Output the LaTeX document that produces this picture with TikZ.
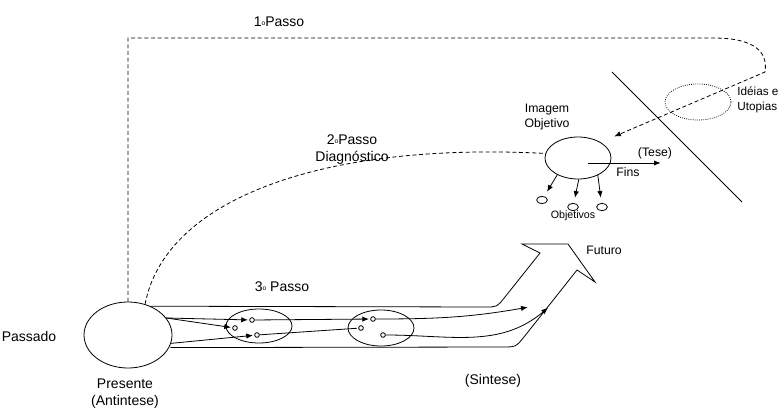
\documentclass[tikz,border=0pt]{standalone}
\usepackage{fontspec}
\setmainfont{Liberation Sans}
\usetikzlibrary{arrows,arrows.meta,calc,positioning,shapes.geometric}

\newcommand{\ord}{\raisebox{0.8pt}{\fontsize{5}{5}\selectfont o}}

\begin{document}
\begin{tikzpicture}[x=0.75pt,y=-0.75pt,>={Latex[length=5pt,width=4pt]},shorten >=1pt,line width=0.6pt,
	elip/.style={draw,ellipse,inner sep=0pt},
	pto/.style={draw,circle,inner sep=0pt,minimum size=3.5pt},
	obj/.style={draw,ellipse,inner sep=0pt,minimum width=8pt,minimum height=5.5pt},
	grande/.style={font=\fontsize{10.5}{12.75}\selectfont,align=center},
	pequeno/.style={font=\fontsize{9.2}{11}\selectfont,align=center},
	tracejado/.style={dash pattern=on 3pt off 2pt}]
	\useasboundingbox (0,0) rectangle (780,410);
			% elipses
			\node[elip,minimum width=66pt,minimum height=49.5pt] (presente) at (128,335) {};
			\node[elip,minimum width=49.5pt,minimum height=25.5pt] (grupo1) at (259,326) {};
			\node[elip,minimum width=49.5pt,minimum height=27pt] (grupo2) at (381,328) {};
			\node[elip,minimum width=49.5pt,minimum height=31.5pt] (imagem) at (578,158) {};
			\node[elip,densely dotted,minimum width=49.5pt,minimum height=27pt] (utopias) at (698,102) {};
			\node[pto] (c1) at (252,320) {};
			\node[pto] (c2) at (235,328) {};
			\node[pto] (c3) at (257,335) {};
			\node[pto] (c4) at (373,319) {};
			\node[pto] (c5) at (361,328) {};
			\node[pto] (c6) at (383,335) {};
			\node[obj] (ob1) at (542,200) {};
			\node[obj] (ob2) at (573,207) {};
			\node[obj] (ob3) at (602,207) {};
			\coordinate (fut1) at (529,307);
			\coordinate (fut2) at (549,307);
			\coordinate (fins1) at (588,163);
			\coordinate (fins2) at (662,163);
			\coordinate (canto1) at (128,38);
			\coordinate (canto2) at (713,38);
			\coordinate (volta) at (765,72);
			\coordinate (alvo) at (613,137);
			% textos
			\node[grande] (passo1) at (279,22) {1\ord Passo};
			\node[grande] (passo2) at (352,150) {2\ord Passo\\Diagnóstico};
			\node[grande] (passo3) at (282,287) {3\ord\ Passo};
			\node[grande] (passado) at (29,336) {Passado};
			\node[grande] (presente-txt) at (125,393.5) {Presente\\(Antintese)};
			\node[grande] (sintese) at (493,381) {(Sintese)};
			\node[pequeno] (imagem-txt) at (547,117) {Imagem\\Objetivo};
			\node[pequeno] (tese) at (655,153) {(Tese)};
			\node[pequeno] (fins) at (628,172) {Fins};
			\node[font=\fontsize{8}{9}\selectfont] (objetivos) at (573,216) {Objetivos};
			\node[font=\fontsize{8.8}{11}\selectfont,align=left,anchor=west,inner sep=0pt] (ideias) at (737,100) {Idéias e\\Utopias};
			\node[pequeno] (futuro) at (604,250) {Futuro};
			% passos 1 e 2
			\draw[tracejado,->] (presente.90) -- (canto1) -- (canto2) .. controls (755,38) and (768,52) .. (volta) -- (alvo);
			\draw[tracejado] (presente.61) .. controls (165,200) and (320,142) .. (imagem.172);
			\draw (612,72) -- (743,203);
			% faixa do futuro
			\draw (presente.52) -- (485,307) .. controls (497,307) .. (504.5,297.6) -- (540,253) -- (522,244) -- (568,244)
				-- (595,282) -- (577,270) -- (524.7,336.1) .. controls (516,347) .. (502,347) -- (presente.-17);
			\path[->]
				(presente.24) edge (c1)
				(presente.24) edge (c2)
				(presente.-11) edge (c3)
				(c1) edge (c4)
				(c4) edge [out=0,in=190] (fut1)
				(c6) edge [out=0,in=220] (fut2)
				(fins1) edge (fins2)
				(imagem.-141) edge [shorten >=4pt] (ob1)
				(imagem.-88) edge [shorten >=4pt] (ob2)
				(imagem.-41) edge [shorten >=4pt] (ob3);
			\path (c3) edge (c5);
		\end{tikzpicture}
\end{document}
